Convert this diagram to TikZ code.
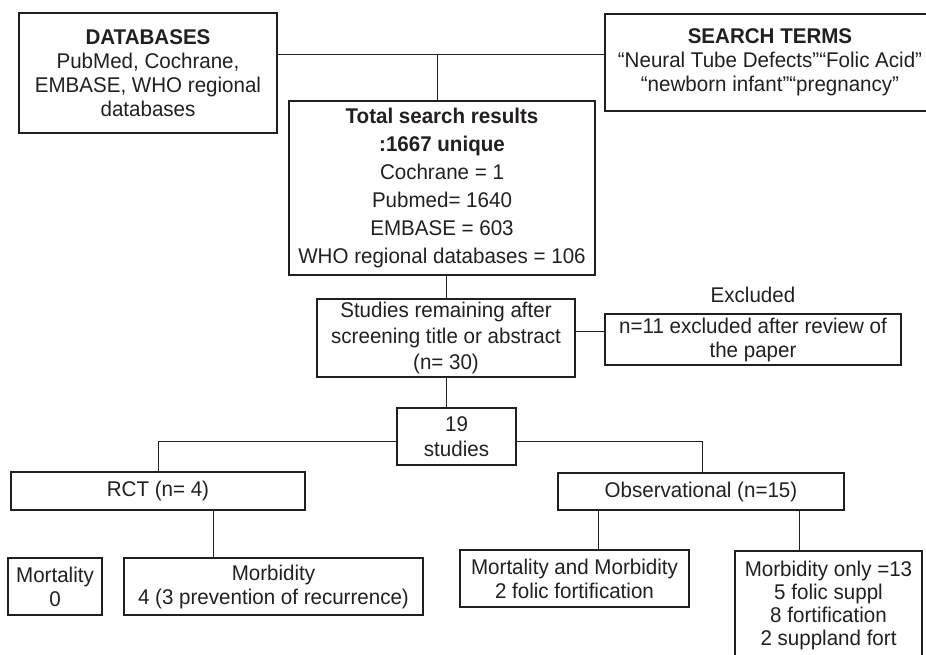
\documentclass[tikz,border=0pt]{standalone}
\usepackage{fontspec}
\setmainfont{Liberation Sans}[FakeStretch=0.965]
\usepackage{xcolor}
\usepackage{tikz}
\definecolor{ink}{HTML}{231F20}
\def\normsize{\fontsize{21.3}{24}\selectfont}
\def\widesize{\fontsize{21.3}{28}\selectfont}
\tikzset{
  panel/.style={draw=ink, line width=1.1pt, inner sep=0pt, align=center, text=ink, font=\normsize},
  link/.style={draw=ink, line width=0.8pt}
}

\begin{document}
\begin{tikzpicture}[x=1pt,y=-1pt]
    \useasboundingbox (0,0) rectangle (926,655);
    % search sources
    \node[panel, minimum width=258, minimum height=120] (db) at (148,73)
      {\textbf{DATABASES}\\PubMed, Cochrane,\\EMBASE, WHO regional\\databases};
    \node[panel, minimum width=330, minimum height=97] (terms) at (770,62.5)
      {\textbf{SEARCH TERMS}\\“Neural Tube Defects”“Folic Acid”\\“newborn infant”“pregnancy”};
    \node[panel, font=\widesize, minimum width=306, minimum height=174] (total) at (442,188)
      {\textbf{Total search results}\\\textbf{:1667 unique}\\Cochrane = 1\\Pubmed= 1640\\EMBASE = 603\\WHO regional databases = 106};
    % screening
    \node[panel, font=\fontsize{21.3}{26}\selectfont, minimum width=258, minimum height=78] (screen) at (446,338)
      {Studies remaining after\\screening title or abstract\\(n= 30)};
    \node[text=ink, font=\normsize] (exlabel) at (753,295) {Excluded};
    \node[panel, minimum width=296, minimum height=51] (excl) at (753,339.5)
      {n=11 excluded after review of\\the paper};
    \node[panel, font=\fontsize{21.3}{25}\selectfont, minimum width=119, minimum height=57] (nineteen) at (456.5,436.5)
      {19\\studies};
    % study types
    \node[panel, minimum width=294, minimum height=38] (rct) at (158,491) {RCT (n= 4)};
    \node[panel, minimum width=286, minimum height=37] (obs) at (701,491.5) {Observational (n=15)};
    \node[panel, minimum width=94, minimum height=57] (mort) at (55,586.5) {Mortality\\0};
    \node[panel, minimum width=299, minimum height=57] (morb) at (273.5,586.5)
      {Morbidity\\4 (3 prevention of recurrence)};
    \node[panel, minimum width=229, minimum height=57] (mortmorb) at (574.5,578.5)
      {Mortality and Morbidity\\2 folic fortification};
    \node[panel, font=\fontsize{21.3}{23}\selectfont, minimum width=187, minimum height=109] (morbonly) at (828.5,605.5)
      {Morbidity only =13\\5 folic suppl\\8 fortification\\2 suppland fort};
    % connectors
    \coordinate (join) at (437,54);
    \draw[link] (db.east |- join) -- (terms.west |- join);
    \draw[link] (join) -- (join |- total.north);
    \draw[link] (446,0 |- total.south) -- (446,0 |- screen.north);
    \coordinate (exjoin) at (0,331);
    \draw[link] (screen.east |- exjoin) -- (excl.west |- exjoin);
    \draw[link] (screen.south) -- (screen.south |- nineteen.north);
    \coordinate (split) at (0,441);
    \draw[link] (nineteen.west |- split) -| (rct.north);
    \draw[link] (nineteen.east |- split) -| (702,0 |- obs.north);
    \draw[link] (213,0 |- rct.south) -- (213,0 |- morb.north);
    \draw[link] (598,0 |- obs.south) -- (598,0 |- mortmorb.north);
    \draw[link] (799,0 |- obs.south) -- (799,0 |- morbonly.north);
\end{tikzpicture}
\end{document}
